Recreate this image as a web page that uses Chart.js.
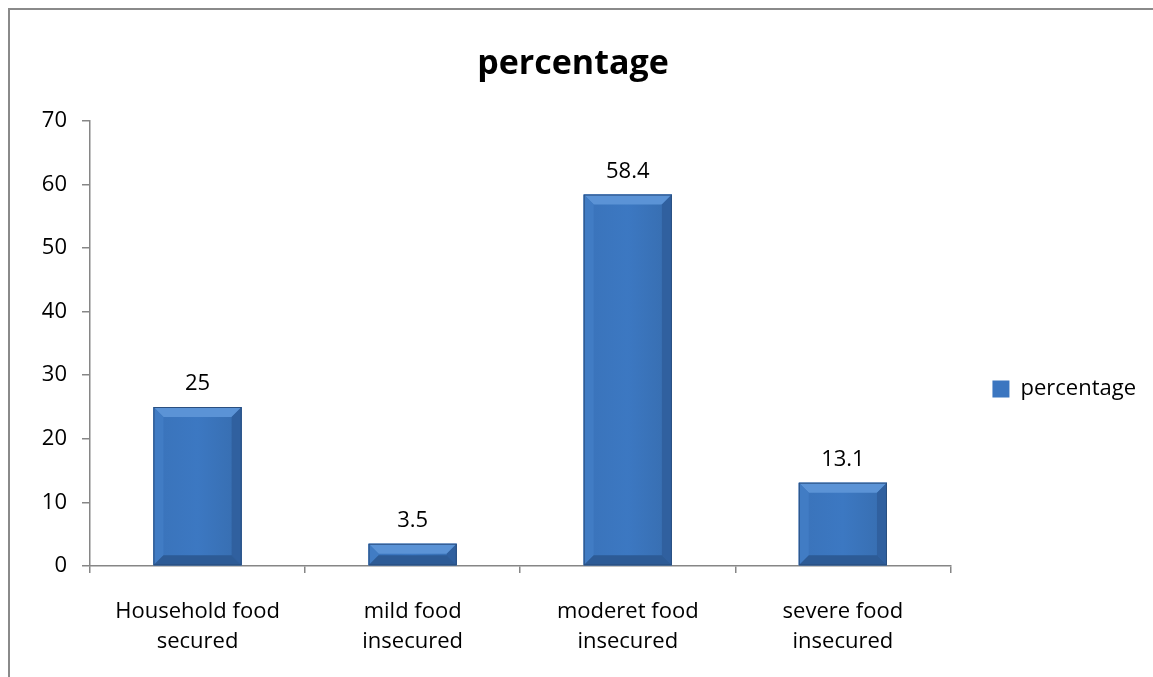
<!DOCTYPE html>
<html>
<head>
<meta charset="utf-8">
<script src="https://cdn.jsdelivr.net/npm/chart.js@4.4.0/dist/chart.umd.min.js"></script>
<style>
body{margin:0;background:#fff;overflow:hidden}
.frame{position:absolute;left:8px;top:8px;width:1200px;height:700px;border-left:2px solid #8a8a8a;border-top:2px solid #8a8a8a}
.wrap{position:absolute;left:0;top:0;width:1153px;height:677px}
</style>
</head>
<body>
<div class="frame"></div>
<div class="wrap"><canvas id="myChart" width="1153" height="677"></canvas></div>
<script>
const categories = [
    ['Household food', 'secured'],
    ['mild food', 'insecured'],
    ['moderet food', 'insecured'],
    ['severe food', 'insecured']
]
const percentage = [25, 3.5, 58.4, 13.1]
const yTicks = [0, 10, 20, 30, 40, 50, 60, 70]

const axisGray = '#868686'
const fontName = '"Open Sans", "Liberation Sans", sans-serif'

// excel style bevel on top of each bar
const bevel = {
    id: 'bevel',
    afterDatasetsDraw(chart){
        const c = chart.ctx
        const meta = chart.getDatasetMeta(0)
        c.save()
        meta.data.forEach(bar => {
            const x0 = bar.x - bar.width / 2
            const x1 = bar.x + bar.width / 2
            const y0 = bar.y
            const y1 = bar.base
            const b = Math.min(10, (y1 - y0) / 2, bar.width / 6)
            const face = (pts, color) => {
                c.beginPath()
                c.moveTo(pts[0][0], pts[0][1])
                for(let i = 1; i < pts.length; i++) c.lineTo(pts[i][0], pts[i][1])
                c.closePath()
                c.fillStyle = color
                c.fill()
            }
            const g = c.createLinearGradient(x0, 0, x1, 0)
            g.addColorStop(0, '#3a73ba')
            g.addColorStop(0.5, '#3c78c2')
            g.addColorStop(1, '#376daf')
            face([[x0, y0], [x1, y0], [x1, y1], [x0, y1]], g)
            face([[x0, y0], [x1, y0], [x1 - b, y0 + b], [x0 + b, y0 + b]], '#5b93d6')
            face([[x0, y0], [x0 + b, y0 + b], [x0 + b, y1 - b], [x0, y1]], '#417cc4')
            face([[x1, y0], [x1 - b, y0 + b], [x1 - b, y1 - b], [x1, y1]], '#30609f')
            face([[x0, y1], [x0 + b, y1 - b], [x1 - b, y1 - b], [x1, y1]], '#2d5b96')
            c.strokeStyle = '#2a4f80'
            c.lineWidth = 1
            c.strokeRect(x0 + 0.5, y0 + 0.5, bar.width - 1, y1 - y0 - 1)
        })
        c.restore()
    }
}

const valueLabels = {
    id: 'valueLabels',
    afterDatasetsDraw(chart){
        const c = chart.ctx
        const meta = chart.getDatasetMeta(0)
        c.save()
        c.font = '22px ' + fontName
        c.fillStyle = '#000'
        c.textAlign = 'center'
        c.textBaseline = 'alphabetic'
        meta.data.forEach((bar, i) => {
            c.fillText(String(percentage[i]), bar.x, bar.y - 17)
        })
        c.restore()
    }
}

// legend centred in the space under the title, like excel does
const legendLift = 10
const legendMiddle = {
    id: 'legendMiddle',
    afterLayout(chart){
        const lg = chart.legend
        const h = lg.bottom - lg.top
        const mid = (chart.titleBlock.bottom + chart.height) / 2 - legendLift
        lg.top = mid - h / 2
        lg.bottom = mid + h / 2
    }
}

const ctx = document.getElementById('myChart').getContext('2d')

const options = {
    type: 'bar',
    data: {
        labels: categories,
        datasets: [{
            label: 'percentage',
            data: percentage,
            backgroundColor: '#3b76c0',
            borderWidth: 0,
            barPercentage: 0.41,
            categoryPercentage: 1
        }]
    },
    options: {
        responsive: false,
        animation: false,
        devicePixelRatio: 1,
        layout: {
            padding: {left: 0, right: 7, top: 0, bottom: 0}
        },
        plugins: {
            title: {
                display: true,
                text: 'percentage',
                color: '#000',
                font: {family: fontName, size: 34, weight: 'bold'},
                padding: {top: 44, bottom: 36}
            },
            legend: {
                position: 'right',
                labels: {
                    color: '#000',
                    font: {family: fontName, size: 22},
                    boxWidth: 17,
                    boxHeight: 17,
                    padding: 42
                }
            },
            tooltip: {enabled: false}
        },
        scales: {
            x: {
                grid: {
                    drawOnChartArea: false,
                    color: axisGray,
                    lineWidth: 1.5,
                    tickLength: 7
                },
                border: {color: axisGray, width: 1.5},
                ticks: {
                    color: '#000',
                    font: {family: fontName, size: 22, lineHeight: 1.4},
                    padding: 23,
                    maxRotation: 0
                },
                afterFit(scale){
                    scale.height = 111
                }
            },
            y: {
                min: 0,
                max: 70,
                afterBuildTicks(scale){
                    scale.ticks = yTicks.map(v => ({value: v}))
                },
                grid: {
                    drawOnChartArea: false,
                    color: axisGray,
                    lineWidth: 1.5,
                    tickLength: 8
                },
                border: {color: axisGray, width: 1.5},
                ticks: {
                    color: '#000',
                    font: {family: fontName, size: 22},
                    padding: 15
                },
                afterFit(scale){
                    scale.width = 90
                }
            }
        }
    },
    plugins: [bevel, valueLabels, legendMiddle]
}

const myChart = new Chart(ctx, options)
</script>
</body>
</html>
